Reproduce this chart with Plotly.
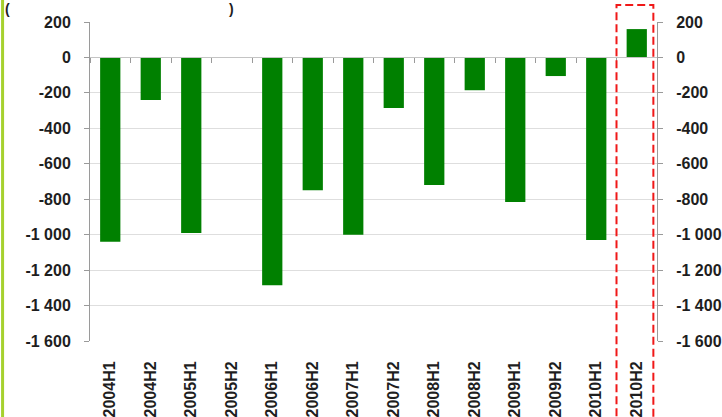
import plotly.graph_objects as go

# Half-year periods and net values
categories = ["2004H1", "2004H2", "2005H1", "2005H2", "2006H1", "2006H2", "2007H1",
              "2007H2", "2008H1", "2008H2", "2009H1", "2009H2", "2010H1", "2010H2"]
values = [-1040, -240, -990, 0, -1285, -750, -1000, -285, -720, -185, -815, -105, -1030, 160]

# Value-axis ticks
y_ticks = [200, 0, -200, -400, -600, -800, -1000, -1200, -1400, -1600]
highlight = "2010H2"


def fmt(v):
    s = f"{abs(v):,}".replace(",", " ")
    return ("-" if v < 0 else "") + s


y_text = [fmt(v) for v in y_ticks]
y_range = [min(y_ticks), max(y_ticks)]

W, H = 722, 417
ML, MR, MT, MB = 89.5, 65, 22, 76
PW, PH = W - ML - MR, H - MT - MB


def px_x(p):
    return (p - ML) / PW


def px_y(p):
    return (H - MB - p) / PH


FAMILY = "Liberation Sans, Arial, sans-serif"
tick_font = dict(family=FAMILY, size=16, color="#1e1e1e", weight="bold")

fig = go.Figure()
fig.add_trace(go.Bar(
    x=categories, y=values,
    marker=dict(color="#008000", line=dict(width=0)),
    hoverinfo="skip", showlegend=False,
))
# Companion trace for the right value axis and the zero-line category axis
fig.add_trace(go.Scatter(
    x=categories, y=values, xaxis="x2", yaxis="y2",
    mode="none", hoverinfo="skip", showlegend=False,
))

axis_grey = "#9a9a9a"
zero_pos = (0 - y_range[0]) / (y_range[1] - y_range[0])

fig.update_layout(
    width=W, height=H,
    margin=dict(l=ML, r=MR, t=MT, b=MB, autoexpand=False),
    paper_bgcolor="white", plot_bgcolor="white",
    bargap=0.5,
    xaxis=dict(
        type="category", categoryorder="array", categoryarray=categories,
        range=[-0.5, len(categories) - 0.5], automargin=False,
        showline=False, showgrid=False, zeroline=False,
        # invisible ticks only push the labels down from the plot edge
        ticks="outside", ticklen=13, tickcolor="rgba(0,0,0,0)",
        tickangle=-90,
        tickfont=dict(family=FAMILY, size=16, color="#1e1e1e", weight="bold"),
    ),
    xaxis2=dict(
        type="category", categoryorder="array", categoryarray=categories,
        range=[-0.5, len(categories) - 0.5], automargin=False,
        overlaying="x", anchor="free", position=zero_pos,
        showline=True, linecolor="#c4c4c4", linewidth=1,
        showgrid=False, zeroline=False,
        ticks="outside", tickson="boundaries", ticklen=5, tickcolor=axis_grey,
        showticklabels=False,
    ),
    yaxis=dict(
        range=y_range, tickvals=y_ticks, ticktext=y_text, automargin=False,
        showgrid=True, gridcolor="#dedede", gridwidth=1,
        zeroline=False,
        showline=True, linecolor=axis_grey, linewidth=1,
        ticks="outside", ticklen=5, tickcolor=axis_grey,
        tickfont=tick_font, ticklabelstandoff=10,
    ),
    yaxis2=dict(
        range=y_range, tickvals=y_ticks, ticktext=y_text, automargin=False,
        overlaying="y", side="right", anchor="x",
        showgrid=False, zeroline=False,
        showline=True, linecolor=axis_grey, linewidth=1,
        ticks="outside", ticklen=5, tickcolor=axis_grey,
        tickfont=tick_font, ticklabelstandoff=10,
    ),
)

# Dashed frame around the latest period
hi = categories.index(highlight)
fig.add_shape(
    type="rect", xref="x", yref="paper",
    x0=hi - 0.5, x1=hi + 0.41, y0=px_y(440), y1=px_y(5),
    line=dict(color="#f01818", width=2, dash="8px,4px"),
    fillcolor="rgba(0,0,0,0)", layer="above",
)

# Green rule on the left edge of the page
fig.add_shape(
    type="line", xref="paper", yref="paper",
    x0=px_x(2), x1=px_x(2), y0=px_y(H + 2), y1=px_y(-2),
    line=dict(color="#a6d12e", width=3),
)

# Unit caption brackets at the top
for ch, xp in (("(", 7), (")", 231)):
    fig.add_annotation(
        text=ch, xref="paper", yref="paper", x=px_x(xp), y=px_y(0),
        xanchor="center", yanchor="top", showarrow=False,
        font=dict(family=FAMILY, size=14, color="#1e1e1e", weight="bold"),
        borderpad=0,
    )

fig.write_html("out.html")
